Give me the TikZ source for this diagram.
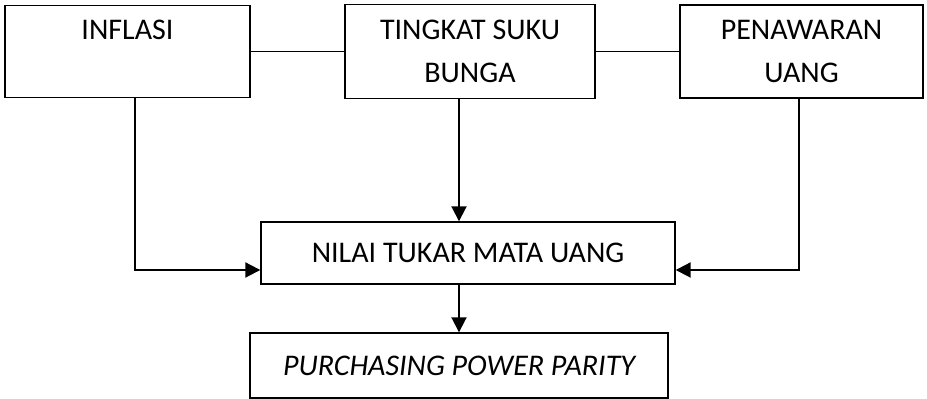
\documentclass[tikz,border=0pt]{standalone}
\usepackage{fontspec}
\setmainfont{Carlito}
\usetikzlibrary{positioning,arrows.meta}
\tikzstyle{kotak} = [rectangle, draw=black, line width=0.7pt, align=center,
                     font=\fontsize{15}{21.5}\selectfont, inner sep=0pt]
\tikzstyle{panah} = [line width=1pt, -{Triangle[length=7.5pt,width=7.5pt]}]

\begin{document}
\begin{tikzpicture}[x=0.5pt,y=-0.5pt,
			garis/.style={line width=0.7pt}
		]
		\useasboundingbox (0,0) rectangle (927,399);
		\node[kotak,minimum width=122.5pt,minimum height=46pt] (inflasi) at (127.5,51.5) {INFLASI\\\mbox{}};
		\node[kotak,minimum width=125pt,minimum height=47pt] (bunga) at (470,51.5) {TINGKAT SUKU\\BUNGA};
		\node[kotak,minimum width=121.5pt,minimum height=46.5pt] (uang) at (801.5,51.5) {PENAWARAN\\UANG};
		\node[kotak,minimum width=207pt,minimum height=31pt] (nilai) at (468,253) {NILAI TUKAR MATA UANG};
		\node[kotak,minimum width=209pt,minimum height=32.5pt] (ppp) at (459,365.5) {\itshape PURCHASING POWER PARITY};

		\coordinate (kiri) at (135,270);
		\coordinate (kanan) at (799,270);
		\coordinate (tengah) at (459,0);

		\draw[garis] (inflasi.east) -- (inflasi.east -| bunga.west);
		\draw[garis] (bunga.east) -- (bunga.east -| uang.west);

		\draw[panah] (inflasi.south -| kiri) |- (nilai.west |- kiri);
		\draw[panah] (uang.south -| kanan) |- (nilai.east |- kanan);
		\draw[panah] (bunga.south -| tengah) -- (nilai.north -| tengah);
		\draw[panah] (nilai.south -| tengah) -- (ppp.north -| tengah);
	\end{tikzpicture}
\end{document}
